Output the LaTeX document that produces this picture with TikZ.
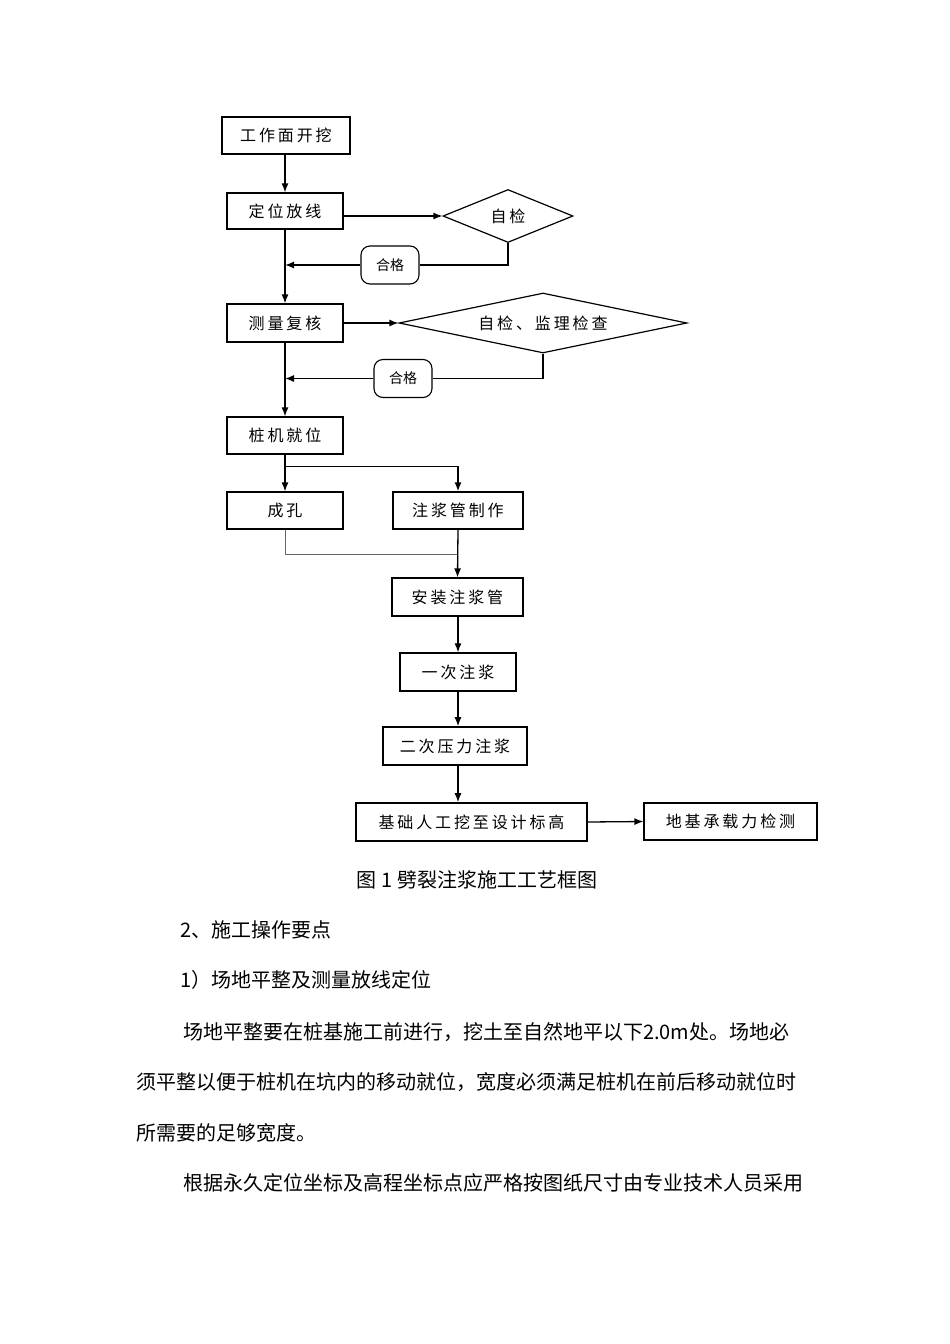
\documentclass[tikz,border=0pt]{standalone}
\usepackage{fontspec}
\setmainfont{Noto Sans CJK SC}
\newfontfamily\boxfont{Noto Sans CJK SC}[LetterSpace=18]
\usepackage{tikz}
\usetikzlibrary{shapes.geometric,arrows.meta,calc}

\tikzset{
  procbox/.style={draw,line width=1.2pt,inner sep=0pt,font=\boxfont\fontsize{16}{18}\selectfont},
  checkdiam/.style={draw,diamond,line width=1.2pt,inner sep=0pt,font=\boxfont\fontsize{16}{18}\selectfont},
  passtag/.style={draw,rounded corners=9pt,line width=1.1pt,inner sep=0pt,minimum width=58pt,minimum height=38pt,font=\fontsize{14}{16}\selectfont},
  flow/.style={line width=1.3pt,-{Latex[length=9pt,width=7pt]}},
  bodytext/.style={anchor=west,inner sep=0pt,font=\fontsize{20}{24}\selectfont}
}

\begin{document}
\begin{tikzpicture}[x=1pt,y=1pt,yscale=-1,xscale=1]
\useasboundingbox (0,0) rectangle (950,1344);

% Process boxes
\node [procbox,minimum width=128pt,minimum height=37pt] (kaiwa) at (286,135.5) {工作面开挖};
\node [procbox,minimum width=116pt,minimum height=36pt] (fangxian) at (285,211) {定位放线};
\node [procbox,minimum width=116pt,minimum height=38pt] (fuhe) at (285,323) {测量复核};
\node [procbox,minimum width=116pt,minimum height=37pt] (jiuwei) at (285,435.5) {桩机就位};
\node [procbox,minimum width=116pt,minimum height=37pt] (chengkong) at (285,510.5) {成孔};
\node [procbox,minimum width=130pt,minimum height=37pt] (zhizuo) at (458,510.5) {注浆管制作};
\node [procbox,minimum width=131pt,minimum height=38pt] (anzhuang) at (457.5,597) {安装注浆管};
\node [procbox,minimum width=116pt,minimum height=38pt] (yici) at (458,672) {一次注浆};
\node [procbox,line width=1.6pt,minimum width=144pt,minimum height=38pt] (erci) at (455,746) {二次压力注浆};
\node [procbox,line width=1.6pt,minimum width=231pt,minimum height=38pt] (wa) at (471.5,822) {基础人工挖至设计标高};
\node [procbox,minimum width=173pt,minimum height=37pt] (jiance) at (730.5,821.5) {地基承载力检测};

% Check diamonds
\node [checkdiam,aspect=2.45,minimum width=130pt,minimum height=53pt] (zijian) at (508,216) {自检};
\node [checkdiam,aspect=4.8,minimum width=288pt,minimum height=60pt] (jianli) at (543,323) {自检、监理检查};

% Pass tags
\node [passtag] (hege1) at (390,265) {合格};
\node [passtag] (hege2) at (403,378.5) {合格};

% Split and merge points
\coordinate (split) at ($(jiuwei.south)+(0,12)$);
\coordinate (merge) at (285,554);

%Straight Lines
\draw [flow] (kaiwa.south -| fangxian.north) -- (fangxian.north);
\draw [flow] (fangxian.east |- zijian.west) -- (zijian.west);
\draw [line width=1.3pt] (zijian.south) |- (hege1.east);
\draw [flow] (hege1.west) -- (hege1.west -| fangxian.south);
\draw [flow] (fangxian.south) -- (fuhe.north);
\draw [flow] (fuhe.east) -- (jianli.west);
\draw [line width=1.3pt] (jianli.south) |- (hege2.east);
\draw [flow] (hege2.west) -- (hege2.west -| fuhe.south);
\draw [flow] (fuhe.south) -- (jiuwei.north);
\draw [line width=1.6pt] (jiuwei.south) -- (split);
\draw [flow] (split) -- (chengkong.north);
\draw [flow,line width=1.6pt] (split) -| (zhizuo.north);
\draw [line width=0.8pt,color=black!60] (chengkong.south) -- (merge) -- (merge -| zhizuo.south);
\draw [flow] (zhizuo.south) -- (anzhuang.north);
\draw [flow] (anzhuang.south -| yici.north) -- (yici.north);
\draw [flow] (yici.south) -- (yici.south |- erci.north);
\draw [flow] (yici.south |- erci.south) -- (yici.south |- wa.north);
\draw [flow] (wa.east) -- (jiance.west);

% Text Node
\node [anchor=center,inner sep=0pt,font=\fontsize{20}{24}\selectfont] (caption) at (477,880) {图 1 劈裂注浆施工工艺框图};
\node [bodytext] (sec) at (180,930) {2、施工操作要点};
\node [bodytext] (subsec) at (180,980) {1）场地平整及测量放线定位};
\node [bodytext] (parA) at (183,1032) {场地平整要在桩基施工前进行，挖土至自然地平以下2.0m处。场地必};
\node [bodytext] (parB) at (136,1082) {须平整以便于桩机在坑内的移动就位，宽度必须满足桩机在前后移动就位时};
\node [bodytext] (parC) at (136,1133) {所需要的足够宽度。};
\node [bodytext] (parD) at (183,1183) {根据永久定位坐标及高程坐标点应严格按图纸尺寸由专业技术人员采用};

\end{tikzpicture}
\end{document}
